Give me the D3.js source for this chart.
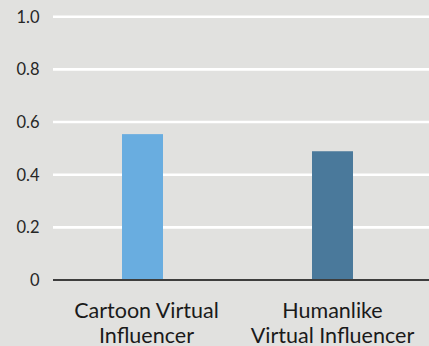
<!DOCTYPE html>
<html>
<head>
<meta charset="utf-8">
<script src="https://cdn.jsdelivr.net/npm/d3@7"></script>
<style>
  html, body { margin: 0; padding: 0; background: #e1e1df; }
  svg { display: block; }
</style>
</head>
<body>
<svg id="chart" width="429" height="346"></svg>
<script>
const categories = [["Cartoon Virtual", "Influencer"], ["Humanlike", "Virtual Influencer"]];
const values = [0.554, 0.489];
const barColors = ["#69ade0", "#4a799b"];
const yTicks = [0, 0.2, 0.4, 0.6, 0.8, 1.0];
const yTickLabels = ["0", "0.2", "0.4", "0.6", "0.8", "1.0"];

const svg = d3.select("#chart");
const W = 429, H = 346;
svg.append("rect").attr("width", W).attr("height", H).attr("fill", "#e1e1df");

const y = d3.scaleLinear().domain([0, 1]).range([280, 16.7]);
const x = d3.scaleBand().domain(d3.range(categories.length)).range([47.5, 427.5]);
const barW = 41;

// gridlines
svg.append("g").selectAll("line")
  .data(yTicks.filter(d => d > 0))
  .join("line")
  .attr("x1", 53).attr("x2", 429)
  .attr("y1", d => y(d)).attr("y2", d => y(d))
  .attr("stroke", "#ffffff").attr("stroke-width", 2.6);

// y tick labels
svg.append("g").selectAll("text")
  .data(yTicks)
  .join("text")
  .attr("x", 39.5)
  .attr("y", d => y(d))
  .attr("dy", "0.36em")
  .attr("text-anchor", "end")
  .attr("font-family", "Lato, 'Open Sans', sans-serif")
  .attr("font-size", 16.5)
  .attr("fill", "#262626")
  .text((d, i) => yTickLabels[i]);

// bars
svg.append("g").selectAll("rect")
  .data(values)
  .join("rect")
  .attr("x", (d, i) => x(i) + x.bandwidth() / 2 - barW / 2)
  .attr("width", barW)
  .attr("y", d => y(d))
  .attr("height", d => y(0) - y(d))
  .attr("fill", (d, i) => barColors[i]);

// x axis line
svg.append("line")
  .attr("x1", 53).attr("x2", 429)
  .attr("y1", y(0)).attr("y2", y(0))
  .attr("stroke", "#3d3d3d").attr("stroke-width", 2);

// category labels
const lab = svg.append("g").selectAll("text")
  .data(categories)
  .join("text")
  .attr("x", (d, i) => x(i) + x.bandwidth() / 2 + (i === 0 ? 4 : 0))
  .attr("y", 317.5)
  .attr("text-anchor", "middle")
  .attr("font-family", "Lato, 'Open Sans', sans-serif")
  .attr("font-size", 21.5)
  .attr("fill", "#1a1a1a");
lab.selectAll("tspan")
  .data((d, i) => d.map(t => ({t, i})))
  .join("tspan")
  .attr("x", d => x(d.i) + x.bandwidth() / 2 + (d.i === 0 ? 4 : 0))
  .attr("dy", (d, j) => j === 0 ? 0 : 25)
  .text(d => d.t);
</script>
</body>
</html>
